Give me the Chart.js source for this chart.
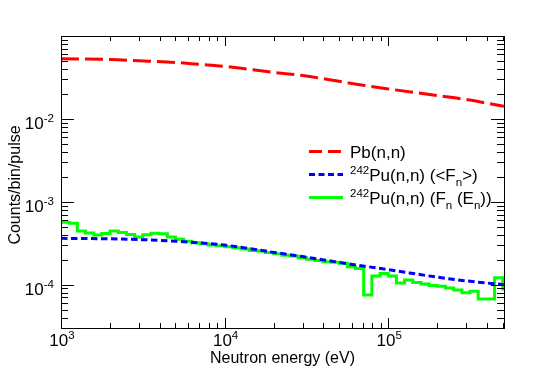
<!DOCTYPE html>
<html>
<head>
<meta charset="utf-8">
<script src="https://cdn.jsdelivr.net/npm/chart.js@4"></script>
<style>
  body { margin: 0; background: #fff; }
  canvas { display: block; }
</style>
</head>
<body>
<canvas id="chart" width="556" height="370"></canvas>
<script>
// --- DATA ---
const pbEnergy = [1000, 2000, 3000, 5000, 7000, 10000, 20000, 30000, 50000, 70000, 100000, 200000, 300000, 510000];
const pbCounts = [0.053, 0.052, 0.0503, 0.048, 0.0455, 0.043, 0.0363, 0.0333, 0.0284, 0.0255, 0.023, 0.0191, 0.0171, 0.0142];

const puEnergy = [1000, 2000, 3000, 5000, 7000, 10000, 20000, 30000, 50000, 70000, 100000, 200000, 300000, 510000];
const puMeanCounts = [3.62e-4, 3.57e-4, 3.5e-4, 3.35e-4, 3.2e-4, 3.0e-4, 2.45e-4, 2.18e-4, 1.86e-4, 1.68e-4, 1.52e-4, 1.23e-4, 1.11e-4, 1.0e-4];

// histogram: 20 log bins per decade starting at 1 keV
const binsPerDecade = 20;
const histStart = 1000;
const puHistCounts = [
    5.65e-4, 5.5e-4, 4.45e-4, 4.2e-4, 3.96e-4, 4.15e-4, 4.45e-4, 4.27e-4, 4.02e-4, 3.77e-4,
    4.0e-4, 4.16e-4, 4.1e-4, 3.77e-4, 3.52e-4, 3.35e-4, 3.2e-4, 3.12e-4, 3.0e-4, 2.95e-4,
    2.87e-4, 2.79e-4, 2.69e-4, 2.59e-4, 2.55e-4, 2.45e-4, 2.36e-4, 2.27e-4, 2.21e-4, 2.11e-4,
    2.02e-4, 1.96e-4, 1.89e-4, 1.87e-4, 1.81e-4, 1.65e-4, 1.57e-4, 7.5e-5, 1.27e-4, 1.36e-4,
    1.27e-4, 1.05e-4, 1.14e-4, 1.06e-4, 1.02e-4, 9.8e-5, 9.6e-5, 9.1e-5, 8.6e-5, 8.0e-5,
    8.3e-5, 6.7e-5, 6.7e-5, 1.21e-4, 8.5e-5
];

const xTickValues = [1e3, 1e4, 1e5];
const xTickExps = ['3', '4', '5'];
const yTickValues = [1e-4, 1e-3, 1e-2];
const yTickExps = ['-4', '-3', '-2'];

const xMin = 1000, xMax = 5.1e5;
const yMin = 3e-5, yMax = 0.1;

const legendItems = [
    { color: '#ff0000', dash: [13, 6], parts: [['Pb(n,n)', 'n']] },
    { color: '#0000ff', dash: [6, 3.5], parts: [['242', 'sup'], ['Pu(n,n) (<F', 'n'], ['n', 'sub'], ['>)', 'n']] },
    { color: '#00ff00', dash: [], parts: [['242', 'sup'], ['Pu(n,n) (F', 'n'], ['n', 'sub'], [' (E', 'n'], ['n', 'sub'], ['))', 'n']] },
];

const FONT = '"Liberation Sans", Arial, Helvetica, sans-serif';

function drawRich(ctx, x, y, parts, size) {
    let cx = x;
    parts.forEach(([text, kind]) => {
        let fs = size, dy = 0;
        if (kind === 'sup') { fs = size * 0.68; dy = -size * 0.42; }
        if (kind === 'sub') { fs = size * 0.68; dy = size * 0.28; }
        ctx.font = `${fs}px ${FONT}`;
        ctx.fillText(text, cx, y + dy);
        cx += ctx.measureText(text).width;
    });
    return cx - x;
}

function richWidth(ctx, parts, size) {
    let w = 0;
    parts.forEach(([text, kind]) => {
        const fs = kind === 'n' ? size : size * 0.68;
        ctx.font = `${fs}px ${FONT}`;
        w += ctx.measureText(text).width;
    });
    return w;
}

// --- frame, ticks, labels and legend in ROOT style ---
const rootFrame = {
    id: 'rootFrame',
    afterDraw(chart) {
        const { ctx, chartArea: a, scales } = chart;
        const xs = scales.x, ys = scales.y;
        ctx.save();
        ctx.strokeStyle = '#000';
        ctx.lineWidth = 1;
        ctx.setLineDash([]);
        ctx.strokeRect(a.left + 0.5, a.top + 0.5, a.right - a.left, a.bottom - a.top);

        ctx.beginPath();
        // x ticks
        for (let d = 3; d <= 5; d++) {
            for (let m = 1; m <= 9; m++) {
                const v = m * Math.pow(10, d);
                if (v < xMin || v > xMax) continue;
                const px = Math.round(xs.getPixelForValue(v)) + 0.5;
                const len = m === 1 ? 10 : 5;
                ctx.moveTo(px, a.bottom); ctx.lineTo(px, a.bottom - len);
                ctx.moveTo(px, a.top); ctx.lineTo(px, a.top + len);
            }
        }
        // y ticks
        for (let d = -5; d <= -1; d++) {
            for (let m = 1; m <= 9; m++) {
                const v = m * Math.pow(10, d);
                if (v < yMin * 0.999 || v > yMax * 1.001) continue;
                const py = Math.round(ys.getPixelForValue(v)) + 0.5;
                const len = m === 1 ? 13 : 7;
                ctx.moveTo(a.left, py); ctx.lineTo(a.left + len, py);
                ctx.moveTo(a.right, py); ctx.lineTo(a.right - len, py);
            }
        }
        ctx.stroke();

        ctx.fillStyle = '#000';
        ctx.textBaseline = 'alphabetic';
        ctx.textAlign = 'left';
        // x tick labels
        xTickValues.forEach((v, i) => {
            const parts = [['10', 'n'], [xTickExps[i], 'sup']];
            const w = richWidth(ctx, parts, 17);
            const px = xs.getPixelForValue(v);
            drawRich(ctx, px - w / 2 + 1, 346, parts, 17);
        });
        // y tick labels
        yTickValues.forEach((v, i) => {
            const parts = [['10', 'n'], [yTickExps[i], 'sup']];
            const w = richWidth(ctx, parts, 17);
            const py = ys.getPixelForValue(v);
            drawRich(ctx, 54 - w, py + 10, parts, 17);
        });

        // axis titles
        ctx.font = `16px ${FONT}`;
        ctx.textAlign = 'center';
        ctx.fillText('Neutron energy (eV)', (a.left + a.right) / 2, 363);
        ctx.save();
        ctx.translate(20, 185);
        ctx.rotate(-Math.PI / 2);
        ctx.fillText('Counts/bin/pulse', 0, 0);
        ctx.restore();

        // legend
        ctx.textAlign = 'left';
        const rowY = [151.5, 174.5, 197.5];
        legendItems.forEach((item, i) => {
            ctx.beginPath();
            ctx.strokeStyle = item.color;
            ctx.lineWidth = 3;
            ctx.setLineDash(item.dash);
            ctx.moveTo(309, rowY[i]);
            ctx.lineTo(343, rowY[i]);
            ctx.stroke();
            ctx.setLineDash([]);
            ctx.fillStyle = '#000';
            drawRich(ctx, 350, rowY[i] + 6.5, item.parts, 17);
        });
        ctx.restore();
    }
};

const histPoints = puHistCounts.map((c, i) => ({
    x: histStart * Math.pow(10, i / binsPerDecade),
    y: c,
}));

new Chart(document.getElementById('chart'), {
    type: 'line',
    data: {
        datasets: [
            {
                label: 'Pb(n,n)',
                data: pbEnergy.map((e, i) => ({ x: e, y: pbCounts[i] })),
                borderColor: '#ff0000',
                borderWidth: 3,
                borderDash: [18, 6],
                pointRadius: 0,
                cubicInterpolationMode: 'monotone',
            },
            {
                label: '242Pu(n,n) (<Fn>)',
                data: puEnergy.map((e, i) => ({ x: e, y: puMeanCounts[i] })),
                borderColor: '#0000ff',
                borderWidth: 3,
                borderDash: [6.5, 3.5],
                pointRadius: 0,
                cubicInterpolationMode: 'monotone',
            },
            {
                label: '242Pu(n,n) (Fn (En))',
                data: histPoints,
                borderColor: '#00ff00',
                borderWidth: 3,
                stepped: 'before',
                pointRadius: 0,
            },
        ],
    },
    options: {
        responsive: false,
        animation: false,
        layout: { padding: { left: 61, right: 52, top: 36, bottom: 42 } },
        plugins: { legend: { display: false }, tooltip: { enabled: false } },
        scales: {
            x: { type: 'logarithmic', min: xMin, max: xMax, display: false },
            y: { type: 'logarithmic', min: yMin, max: yMax, display: false },
        },
    },
    plugins: [rootFrame],
});
</script>
</body>
</html>
